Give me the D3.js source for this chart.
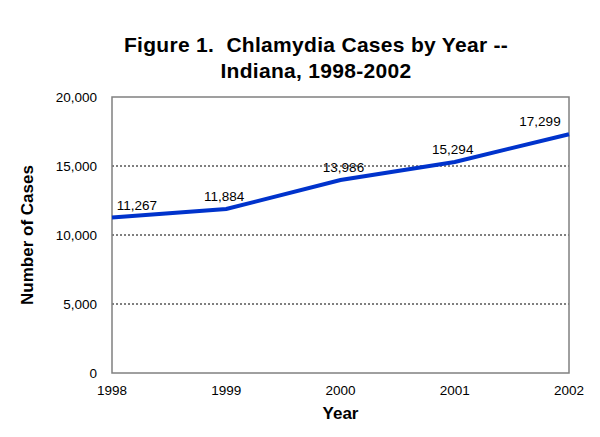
<!DOCTYPE html>
<html>
<head>
<meta charset="utf-8">
<script src="https://cdn.jsdelivr.net/npm/d3@7"></script>
<style>
  body { margin: 0; background: #fff; }
  text { font-family: Arial, "Liberation Sans", sans-serif; fill: #000; }
</style>
</head>
<body>
<div id="chart"></div>
<script>
// data
var years = [1998, 1999, 2000, 2001, 2002];
var cases = [11267, 11884, 13986, 15294, 17299];
var yTicks = [0, 5000, 10000, 15000, 20000];
var titleLines = ["Figure 1.  Chlamydia Cases by Year --", "Indiana, 1998-2002"];

var width = 600, height = 437;
var margin = {top: 97, right: 31, bottom: 64, left: 112};

var svg = d3.select("#chart").append("svg")
    .attr("width", width)
    .attr("height", height);

var x = d3.scaleLinear()
    .domain([1998, 2002])
    .range([margin.left, width - margin.right]);

var y = d3.scaleLinear()
    .domain([0, 20000])
    .range([height - margin.bottom, margin.top]);

var fmt = d3.format(",");

// dotted gridlines
svg.selectAll(".grid")
    .data(yTicks.filter(function(d) { return d > 0 && d < 20000; }))
    .enter().append("line")
    .attr("x1", x(1998)).attr("x2", x(2002))
    .attr("y1", function(d) { return y(d); })
    .attr("y2", function(d) { return y(d); })
    .attr("stroke", "#000")
    .attr("stroke-width", 1)
    .attr("stroke-dasharray", "2,2");

// plot frame
svg.append("rect")
    .attr("x", x(1998)).attr("y", y(20000))
    .attr("width", x(2002) - x(1998))
    .attr("height", y(0) - y(20000))
    .attr("fill", "none")
    .attr("stroke", "#808080")
    .attr("stroke-width", 1.5);

// y tick labels
svg.selectAll(".ylab")
    .data(yTicks)
    .enter().append("text")
    .attr("x", x(1998) - 15)
    .attr("y", function(d) { return y(d); })
    .attr("dy", "0.35em")
    .attr("text-anchor", "end")
    .style("font-size", "13.5px")
    .text(function(d) { return fmt(d); });

// x tick labels
svg.selectAll(".xlab")
    .data(years)
    .enter().append("text")
    .attr("x", function(d) { return x(d); })
    .attr("y", y(0) + 22)
    .attr("text-anchor", "middle")
    .style("font-size", "13.5px")
    .text(function(d) { return d; });

// line
var pts = years.map(function(yr, i) { return [yr, cases[i]]; });
var line = d3.line()
    .x(function(d) { return x(d[0]); })
    .y(function(d) { return y(d[1]); });

svg.append("path")
    .datum(pts)
    .attr("d", line)
    .attr("fill", "none")
    .attr("stroke", "#0033cc")
    .attr("stroke-width", 4);

// value labels
var labelShift = [25, -2, 3, -2, -29];
svg.selectAll(".vlab")
    .data(pts)
    .enter().append("text")
    .attr("x", function(d, i) { return x(d[0]) + labelShift[i]; })
    .attr("y", function(d) { return y(d[1]) - 8; })
    .attr("text-anchor", "middle")
    .style("font-size", "13.5px")
    .text(function(d) { return fmt(d[1]); });

// titles
svg.selectAll(".title")
    .data(titleLines)
    .enter().append("text")
    .attr("x", 316)
    .attr("y", function(d, i) { return 52 + i * 26; })
    .attr("text-anchor", "middle")
    .attr("xml:space", "preserve")
    .style("white-space", "pre")
    .style("font-size", "21px")
    .style("font-weight", "bold")
    .style("letter-spacing", "0.3px")
    .text(function(d) { return d; });

svg.append("text")
    .attr("x", x(2000))
    .attr("y", 419)
    .attr("text-anchor", "middle")
    .style("font-size", "17px")
    .style("font-weight", "bold")
    .text("Year");

svg.append("text")
    .attr("transform", "translate(33," + y(10000) + ") rotate(-90)")
    .attr("text-anchor", "middle")
    .style("font-size", "17px")
    .style("font-weight", "bold")
    .text("Number of Cases");
</script>
</body>
</html>
